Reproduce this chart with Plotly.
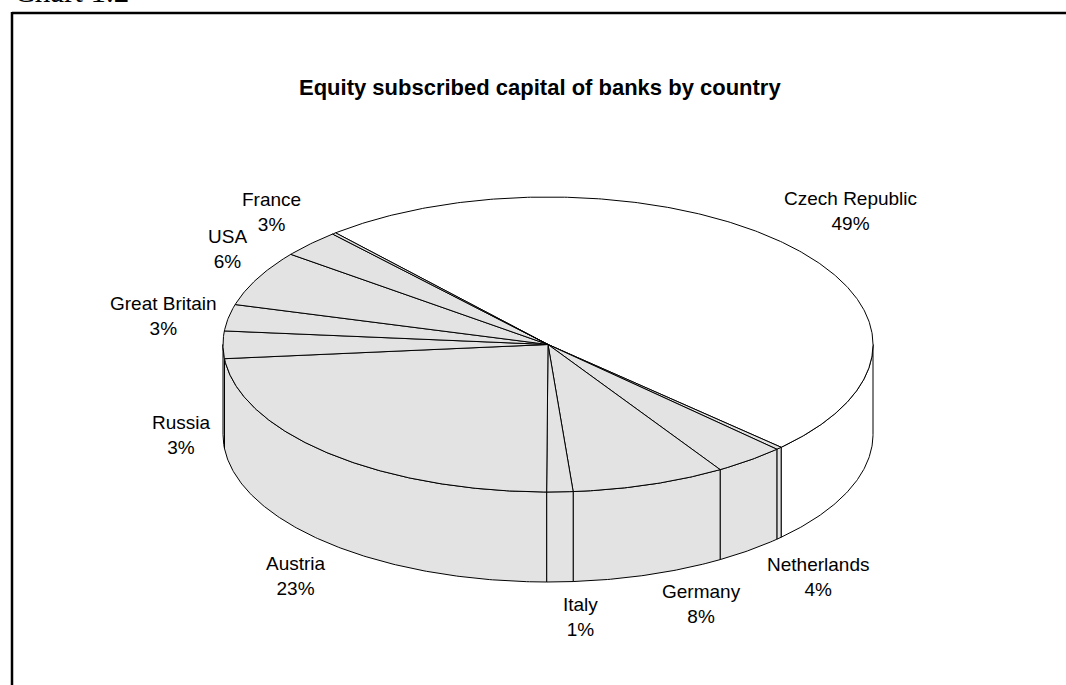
import numpy as np
import plotly.graph_objects as go

# ---------------- data ----------------
countries = ["Czech Republic", "", "Netherlands", "Germany", "Italy", "Austria",
             "Russia", "Great Britain", "USA", "France", ""]
shares = [48.6, 0.3, 3.55, 7.65, 1.3, 23.4, 3.0, 2.9, 6.1, 3.0, 0.2]
title_text = "Equity subscribed capital of banks by country"
caption_text = "Chart 1.2"

# ---------------- styles / geometry ----------------
slice_colors = ["#FFFFFF"] + ["#E3E3E3"] * (len(shares) - 1)
W, H = 1066, 685
CX, CY = 548.0, 344.5      # centre of top face (px)
RX, RY = 325.0, 147.5      # radii of top face (px)
DEPTH = 90.0               # thickness of the pie (px)
START = 229.2              # start angle, degrees clockwise from 3 o'clock
LABEL_FONT = dict(family="Liberation Sans, Arial, sans-serif", size=19, color="black")
# small pixel nudges of data labels (layout only)
label_nudge = {"Czech Republic": (-10, 0), "Italy": (20, 0), "Germany": (7, -5),
               "Netherlands": (9, -6), "Austria": (6, 0)}

fig = go.Figure()

total = float(sum(shares))
cum = np.concatenate([[0.0], np.cumsum(shares)])
a_start = START + 360.0 * cum[:-1] / total
a_end = START + 360.0 * cum[1:] / total


def arc(a0, a1, dy=0.0, n=None):
    if n is None:
        n = max(4, int(abs(a1 - a0) * 2))
    t = np.radians(np.linspace(a0, a1, n))
    return CX + RX * np.cos(t), CY + RY * np.sin(t) + dy


line_style = dict(color="black", width=1)

# side walls (visible front half: angle in (0,180) mod 360)
for i, s in enumerate(shares):
    a0, a1 = a_start[i], a_end[i]
    for k in range(0, 3):
        lo = max(a0, 360.0 * k)
        hi = min(a1, 360.0 * k + 180.0)
        if hi > lo:
            xt, yt = arc(lo, hi)
            xb, yb = arc(hi, lo, DEPTH)
            xs = np.concatenate([xt, xb, xt[:1]])
            ys = np.concatenate([yt, yb, yt[:1]])
            fig.add_trace(go.Scatter(x=xs, y=ys, mode="lines", fill="toself",
                                     fillcolor=slice_colors[i], line=line_style,
                                     hoverinfo="skip", showlegend=False))

# top faces
for i, s in enumerate(shares):
    xa, ya = arc(a_start[i], a_end[i])
    xs = np.concatenate([[CX], xa, [CX]])
    ys = np.concatenate([[CY], ya, [CY]])
    fig.add_trace(go.Scatter(x=xs, y=ys, mode="lines", fill="toself",
                             fillcolor=slice_colors[i], line=line_style,
                             hoverinfo="skip", showlegend=False))

# data labels
annotations = []
for i, (name, s) in enumerate(zip(countries, shares)):
    if not name:
        continue
    m = np.radians((a_start[i] + a_end[i]) / 2.0)
    c, sn = np.cos(m), np.sin(m)
    dx, dy = label_nudge.get(name, (0, 0))
    px = CX + RX * c + 10 * c + dx
    py = CY + RY * sn + (DEPTH if sn > -0.05 else 0.0) + 10 * sn + dy
    xanchor = "left" if c > 0.2 else ("right" if c < -0.2 else "center")
    yanchor = "bottom" if sn < -0.3 else ("top" if sn > 0.3 else "middle")
    pct = f"{int(100 * s / total + 0.5)}%"
    annotations.append(dict(x=px, y=py, xref="x", yref="y", text=f"{name}<br>{pct}",
                            showarrow=False, xanchor=xanchor, yanchor=yanchor,
                            align="center", font=LABEL_FONT))

annotations.append(dict(x=540, y=87, xref="x", yref="y", text=f"<b>{title_text}</b>",
                        showarrow=False, xanchor="center", yanchor="middle",
                        font=dict(family="Liberation Sans, Arial, sans-serif", size=22, color="black")))
annotations.append(dict(x=12, y=11, xref="x", yref="y", text=caption_text,
                        showarrow=False, xanchor="left", yanchor="bottom",
                        font=dict(family="Liberation Serif, Times New Roman, serif", size=31, color="black")))

shapes = [
    dict(type="line", xref="x", yref="y", x0=12, y0=13, x1=W + 5, y1=13,
         line=dict(color="black", width=2.5)),
    dict(type="line", xref="x", yref="y", x0=12, y0=12, x1=12, y1=H + 5,
         line=dict(color="black", width=2.5)),
]

fig.update_layout(
    width=W, height=H,
    margin=dict(l=0, r=0, t=0, b=0, pad=0),
    paper_bgcolor="white", plot_bgcolor="white",
    xaxis=dict(range=[0, W], visible=False, fixedrange=True),
    yaxis=dict(range=[H, 0], visible=False, fixedrange=True),
    annotations=annotations,
    shapes=shapes,
    showlegend=False,
)

fig.write_html("out.html", config={"displayModeBar": False},
               post_script="document.body.style.margin='0';document.body.style.overflow='hidden';")
